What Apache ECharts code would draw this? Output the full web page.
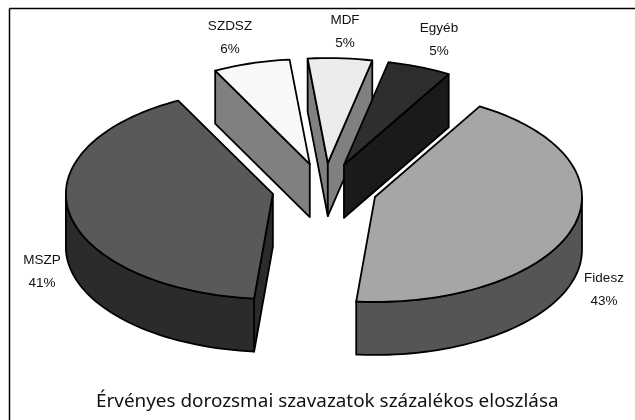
<!DOCTYPE html>
<html>
<head>
<meta charset="utf-8">
<title>Érvényes dorozsmai szavazatok</title>
<style>
  html, body { margin: 0; padding: 0; background: #fff; }
  #chart { width: 635px; height: 420px; }
</style>
<script src="https://cdn.jsdelivr.net/npm/echarts@6/dist/echarts.min.js"></script>
</head>
<body>
<div id="chart"></div>
<script>
// adatok
var categories = ["Fidesz", "MSZP", "SZDSZ", "MDF", "Egyéb"];
var values = [43, 41, 6, 5, 5];
var topColors = ["#a6a6a6", "#595959", "#f8f8f8", "#ececec", "#2e2e2e"];
var wallColors = ["#555555", "#2b2b2b", "#808080", "#808080", "#1a1a1a"];

// rajzolasi sorrend: hatulrol elore
var drawOrder = [2, 3, 4, 1, 0];
var labelPos = [[604, 290], [42, 272], [230, 38], [345, 32], [439, 40]];

// a "3D" kor geometriaja
var cx = 324.7, cy = 189, rx = 207, ry = 105, depth = 53;
var explodeX = 52.8, explodeY = 26;
var startDeg = -59.6;

var total = values.reduce(function (a, b) { return a + b; }, 0);

function sliceAngles(idx) {
  var before = 0;
  for (var i = 0; i < idx; i++) before += values[i];
  return [startDeg + before / total * 360, startDeg + (before + values[idx]) / total * 360];
}

function rim(ox, oy, deg) {
  var r = deg * Math.PI / 180;
  return [ox + rx * Math.cos(r), oy + ry * Math.sin(r)];
}

function poly(points, color) {
  return {
    type: "polygon",
    shape: { points: points },
    style: { fill: color, stroke: "#000", lineWidth: 1.8, lineJoin: "round" }
  };
}

function renderSlice(params, api) {
  var idx = api.value(0);
  var a = sliceAngles(idx);
  var mid = (a[0] + a[1]) / 2 * Math.PI / 180;
  var ox = cx + explodeX * Math.cos(mid);
  var oy = cy + explodeY * Math.sin(mid);
  var down = function (p) { return [p[0], p[1] + depth]; };

  var arc = [], front = [];
  for (var d = a[0]; d <= a[1] + 2; d += 2) {
    var deg = Math.min(d, a[1]);
    var p = rim(ox, oy, deg);
    arc.push(p);
    // az ivnek csak az elulso resze latszik
    if (Math.sin(deg * Math.PI / 180) >= 0) front.push(p);
  }

  var first = arc[0], last = arc[arc.length - 1], apex = [ox, oy];
  var kids = [];
  // oldalfalak csak akkor, ha a nezo fele neznek
  if (Math.cos(a[0] * Math.PI / 180) < 0) {
    kids.push(poly([apex, first, down(first), down(apex)], wallColors[idx]));
  }
  if (Math.cos(a[1] * Math.PI / 180) > 0) {
    kids.push(poly([apex, last, down(last), down(apex)], wallColors[idx]));
  }
  if (front.length > 1) {
    kids.push(poly(front.concat(front.map(down).reverse()), wallColors[idx]));
  }
  kids.push(poly([apex].concat(arc), topColors[idx]));

  kids.push({
    type: "text",
    style: {
      x: labelPos[idx][0],
      y: labelPos[idx][1],
      text: categories[idx] + "\n" + Math.round(values[idx] / total * 100) + "%",
      fill: "#111",
      font: "13.5px 'Liberation Sans', Arial, sans-serif",
      lineHeight: 22.5,
      align: "center",
      verticalAlign: "middle"
    }
  });
  return { type: "group", children: kids };
}

var chart = echarts.init(document.getElementById("chart"), null, { renderer: "canvas" });
chart.setOption({
  animation: false,
  backgroundColor: "#fff",
  title: {
    text: "Érvényes dorozsmai szavazatok százalékos eloszlása",
    left: 96,
    top: 392,
    padding: 0,
    textStyle: { fontFamily: "'Noto Sans'", fontSize: 18.9, fontWeight: "normal", color: "#111" }
  },
  graphic: [
    { type: "line", silent: true, shape: { x1: 9.5, y1: 8.5, x2: 635, y2: 8.5 }, style: { stroke: "#000", lineWidth: 1.5 } },
    { type: "line", silent: true, shape: { x1: 9.5, y1: 8.5, x2: 9.5, y2: 420 }, style: { stroke: "#000", lineWidth: 1.5 } }
  ],
  series: [{
    type: "custom",
    coordinateSystem: "none",
    renderItem: renderSlice,
    data: drawOrder.map(function (i) { return [i, values[i]]; })
  }]
});

window.onresize = function () { chart.resize(); };
</script>
</body>
</html>
